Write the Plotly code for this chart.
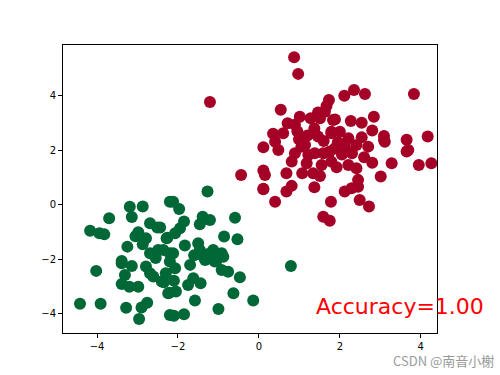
import plotly.graph_objects as go

green_x = [-3.19, -2.87, -3.70, -3.14, -4.17, -3.94, -3.82, -2.69, -2.51, -2.98, -2.79, -2.87, -3.25, -2.69, -2.49, -2.28, -2.20, -3.39,
           -1.27, -2.12, -1.97, -1.39, -1.21, -1.46, -0.59, -1.85, -1.95, -2.07, -2.44, -2.26, -0.86, -0.53, -1.83, -1.50, -1.46, -1.13, -0.92, -2.36, -2.12, -1.37, -1.13, -0.88,
           -2.20, -1.33, -1.09, -2.20, -2.07, -0.92, -0.76, -0.47, -2.30, -2.35, -2.10, -1.62, -1.75, -1.44, -2.21, -2.05, -1.58, -0.63, -0.14, -1.00, -2.10, -1.85,
           -4.02, -3.39, -3.14, -2.79, -2.69, -2.61, -3.31, -2.40, -3.39, -3.20, -2.98, -2.24, -4.42, -3.91, -3.28, -2.90, -2.76, -2.96, -2.20, 0.79,
           -1.25, -1.60, -1.05, -1.70, -2.55, -3.05]
green_y = [-0.07, -0.06, -0.49, -0.44, -0.95, -1.04, -1.08, -0.67, -0.83, -1.00, -1.22, -1.44, -1.53, -1.77, -1.65, -1.22, 0.12, -2.06,
           0.49, 0.12, -0.15, -0.43, -0.55, -0.71, -0.47, -0.61, -0.86, -1.04, -0.83, -1.20, -1.16, -1.26, -1.49, -1.41, -1.65, -1.65, -1.77, -1.65, -1.77, -1.90, -1.96, -1.90,
           -1.77, -2.02, -2.08, -2.08, -2.32, -2.39, -2.45, -2.65, -2.51, -2.84, -2.78, -2.69, -2.94, -2.87, -3.22, -3.18, -3.51, -3.24, -3.51, -3.82, -4.07, -4.01,
           -2.42, -2.14, -2.24, -2.26, -2.51, -2.63, -2.57, -2.81, -2.90, -3.00, -3.00, -3.24, -3.63, -3.63, -3.77, -3.76, -3.59, -4.19, -4.04, -2.24,
           -1.80, -1.85, -2.05, -2.20, -1.95, -1.15]

red_x = [0.11, 0.87, 0.97, 0.54, 1.73, 1.67, 1.46, 1.63, 1.01, 1.28, 1.51, 0.71, 0.89, 1.83, 1.37, 0.60, 0.35, 1.79, 1.46, 0.40, 0.99, 1.14, 0.11,
         2.35, 2.62, 2.11, 3.83, 1.88, 2.27, 2.54, 2.84, 2.80, 1.79, 2.00, 3.09, 3.09, 3.65, 4.17, 2.21, 2.54, 2.41, 2.12, 2.70, 3.69,
         0.48, 0.89, 1.05, 1.22, 1.38, 1.59, 1.75, 1.88, 0.81, 1.18, 1.55, 1.79, -0.44, 0.11, 0.15, 0.68, 1.07, 1.34, 1.51, 0.81, 0.68, 0.11, 1.37, 0.40, 1.78, 1.59, 1.75,
         3.11, 3.65, 1.92, 2.21, 2.41, 2.80, 3.28, 3.95, 4.26, 3.01, 2.45, 2.45, 2.29, 2.12, 2.49, 2.72, -1.21,
         2.05, 2.30, 1.60, 1.95, 2.60, 1.20, 0.95, 2.15]
red_y = [0.59, 5.42, 4.81, 3.49, 3.85, 3.63, 3.39, 3.42, 3.24, 3.18, 3.18, 3.00, 2.94, 3.12, 2.81, 2.63, 2.61, 2.69, 2.51, 2.32, 2.41, 2.20, 2.12,
         4.22, 4.07, 4.01, 4.07, 3.14, 3.08, 3.02, 3.24, 2.73, 2.63, 2.69, 2.53, 2.39, 2.39, 2.51, 2.45, 2.48, 2.20, 2.20, 2.14, 2.02,
         2.02, 1.90, 2.14, 1.83, 1.90, 1.90, 1.96, 2.08, 1.59, 1.53, 1.47, 1.59, 1.10, 1.26, 1.10, 1.16, 1.16, 1.16, 1.06, 0.70, 0.49, 0.58, 0.65, 0.12, 0.12, -0.43, -0.58,
         2.32, 1.96, 1.38, 1.47, 1.35, 1.55, 1.53, 1.47, 1.53, 1.04, 0.92, 0.67, 0.61, 0.49, 0.18, -0.06, 3.78,
         1.85, 1.90, 2.35, 2.30, 1.75, 2.55, 2.70, 2.00]

x_ticks = [-4, -2, 0, 2, 4]
y_ticks = [-4, -2, 0, 2, 4]
label = "Accuracy=1.00"
watermark = "CSDN @南音小榭"

fig = go.Figure()
fig.add_trace(go.Scatter(x=green_x, y=green_y, mode="markers",
                         marker=dict(size=12, color="#006837", line=dict(width=0))))
fig.add_trace(go.Scatter(x=red_x, y=red_y, mode="markers",
                         marker=dict(size=12, color="#a50026", line=dict(width=0))))

axis_common = dict(showgrid=False, zeroline=False, showline=True, linecolor="black", linewidth=1,
                   mirror=True, ticks="outside", ticklen=4, tickcolor="black",
                   tickfont=dict(family="DejaVu Sans", size=10, color="black"))
fig.update_xaxes(range=[-4.84, 4.40], tickvals=x_ticks, **axis_common)
fig.update_yaxes(range=[-4.70, 5.87], tickvals=y_ticks, **axis_common)

fig.add_annotation(x=1.13, y=-3.72, xref="paper", yref="y", text=label, showarrow=False,
                   xanchor="right", yanchor="middle",
                   font=dict(family="DejaVu Sans", size=22, color="red"))
fig.add_annotation(x=1.158, y=-0.095, xref="paper", yref="paper", text=watermark, showarrow=False,
                   xanchor="right", yanchor="middle",
                   font=dict(family="Noto Sans CJK SC", size=13, color="#9a9a9a"))

fig.update_layout(width=500, height=375, showlegend=False,
                  margin=dict(l=63, r=63, t=45, b=42),
                  paper_bgcolor="white", plot_bgcolor="white")

fig.write_html("out.html")
